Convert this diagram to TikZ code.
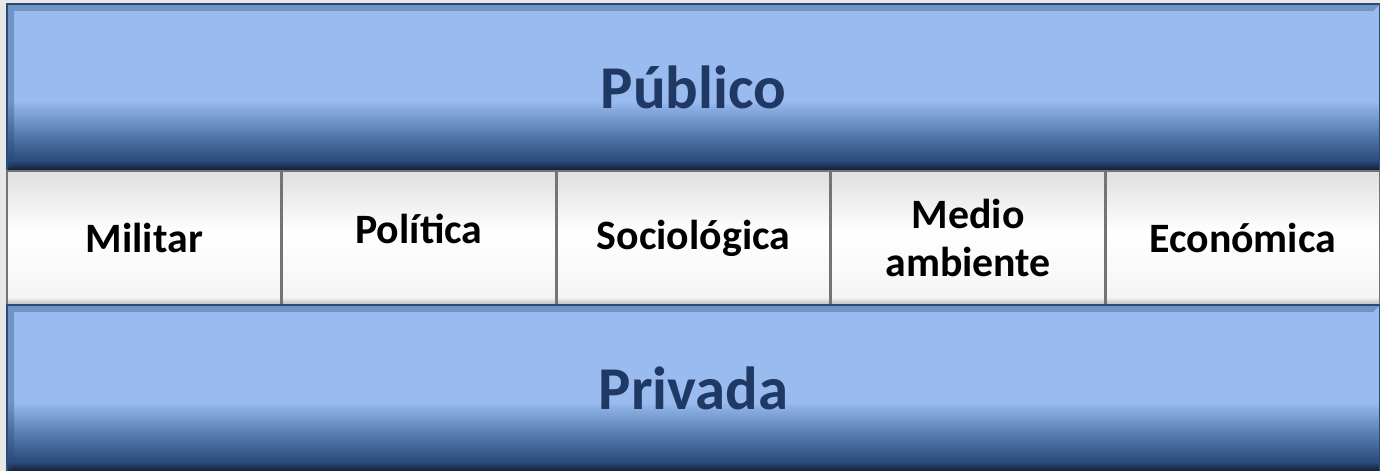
\documentclass[tikz,border=0pt]{standalone}
\usepackage{fontspec}
\setmainfont{Carlito}
\usetikzlibrary{positioning}
\definecolor{bgGrey}{HTML}{E8E8E8}
\definecolor{barLight}{HTML}{99BBEF}
\definecolor{barMid}{HTML}{5B80B5}
\definecolor{barDeep}{HTML}{2A4A78}
\definecolor{barDark}{HTML}{0D1A2E}
\definecolor{titleBlue}{HTML}{1F3864}
\definecolor{boxEdge}{HTML}{747474}
\pgfdeclareverticalshading{barshade}{100bp}{color(0bp)=(barDark); color(25bp)=(barDark); color(28bp)=(barDeep); color(37bp)=(barMid); color(46bp)=(barLight); color(100bp)=(barLight)}
\pgfdeclareverticalshading{boxshade}{100bp}{color(0bp)=(gray!55); color(25bp)=(gray!55); color(28bp)=(white!96!black); color(52bp)=(white); color(75bp)=(gray!25); color(100bp)=(gray!25)}
\tikzset{
  bar/.style={rectangle, draw=barDeep, line width=0.6pt, shading=barshade, outer sep=0pt, inner sep=0pt,
    minimum width=13.73cm, minimum height=1.67cm, font=\bfseries\fontsize{17.3}{20}\selectfont, text=titleBlue},
  area/.style={rectangle, draw=boxEdge, line width=0.8pt, shading=boxshade, outer sep=0pt, inner sep=0pt,
    minimum width=2.746cm, minimum height=1.34cm, align=center, font=\bfseries\fontsize{11.9}{13.5}\selectfont},
  bevel/.style={fill=barDeep, opacity=0.35}
}
\begin{document}
\begin{tikzpicture}
    \fill[bgGrey] (0,0) rectangle (13.8,4.71);
    \useasboundingbox (0,0) rectangle (13.8,4.71);
    % Place nodes
    \node[bar, anchor=north west] (publico) at (0.07,4.67) {Público};
    \node[area, below=0pt of publico.south west, anchor=north west] (militar) {Militar};
    \node[area, right=0pt of militar] (politica) {\raisebox{0.9ex}{Política}};
    \node[area, right=0pt of politica] (sociologica) {Sociológica};
    \node[area, right=0pt of sociologica] (medio) {Medio\\ambiente};
    \node[area, right=0pt of medio] (economica) {Económica};
    \node[bar, below=0pt of militar.south west, anchor=north west] (privada) {Privada};

    % Bevel edges
    \foreach \b in {publico,privada}{
      \fill[bevel] (\b.north west) -- (\b.north east) -- ([shift={(-0.07,-0.07)}]\b.north east)
        -- ([shift={(0.07,-0.07)}]\b.north west) -- cycle;
      \fill[bevel] (\b.north west) -- ([shift={(0.07,-0.07)}]\b.north west)
        -- ([shift={(0.07,0.07)}]\b.south west) -- (\b.south west) -- cycle;
    }
\end{tikzpicture}
\end{document}
